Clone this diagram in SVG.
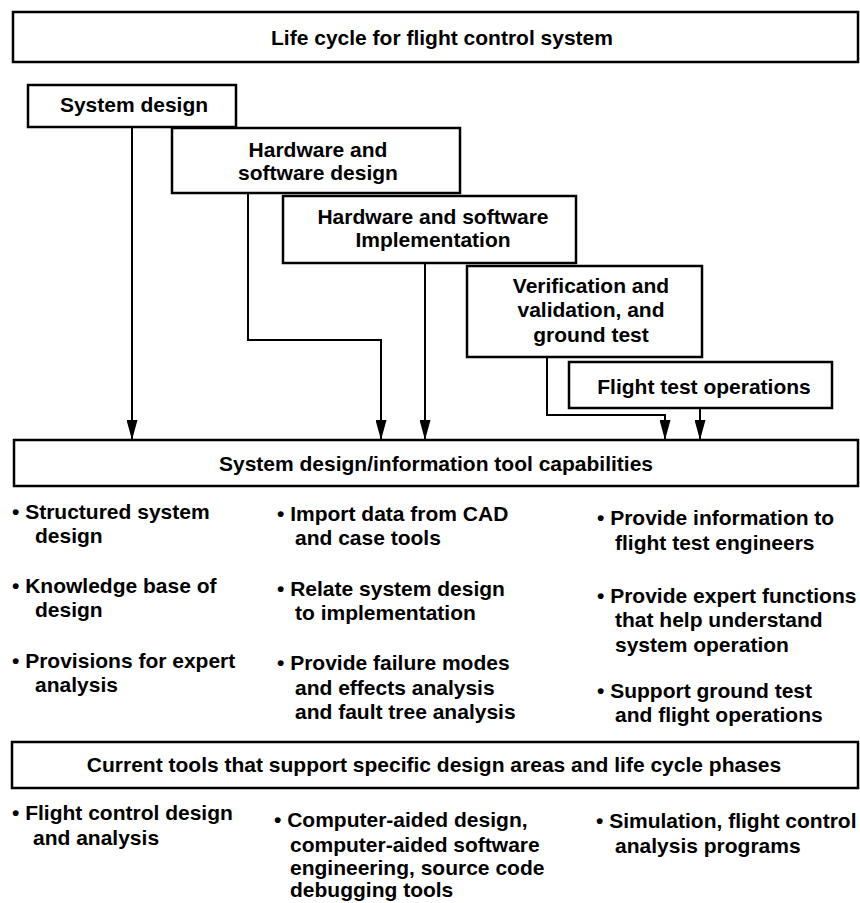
<svg xmlns="http://www.w3.org/2000/svg" width="860" height="903" viewBox="0 0 860 903">
<defs>
<marker id="ah" viewBox="0 0 20 11" refX="20" refY="5.5" markerWidth="20" markerHeight="11" markerUnits="userSpaceOnUse" orient="auto"><path d="M0,0 L20,5.5 L0,11 Z" fill="#000"/></marker>
</defs>
<style>
.box{fill:#fff;stroke:#000;stroke-width:2.5}
.t{font-family:"Liberation Sans",Arial,Helvetica,sans-serif;font-weight:bold;font-size:21px;fill:#000}
.c{text-anchor:middle}
.ln{fill:none;stroke:#000;stroke-width:2;marker-end:url(#ah)}
</style>
<rect width="860" height="903" fill="#fff"/>
<g id="title">
<rect class="box" x="13" y="12" width="845" height="50"/>
<text class="t c" x="442" y="45">Life cycle for flight control system</text>
</g>
<g id="connectors">
<path class="ln" d="M132,127 V440"/>
<path class="ln" d="M248,193 V340 H381 V440"/>
<path class="ln" d="M425,263 V440"/>
<path class="ln" d="M547,357 V415 H665 V440"/>
<path class="ln" d="M700,408 V440"/>
</g>
<g id="system-design">
<rect class="box" x="28" y="85" width="208" height="42"/>
<text class="t c" x="134" y="112">System design</text>
</g>
<g id="hw-sw-design">
<rect class="box" x="172" y="128" width="288" height="65"/>
<text class="t c" x="318" y="157">Hardware and</text>
<text class="t c" x="318" y="180">software design</text>
</g>
<g id="hw-sw-impl">
<rect class="box" x="283" y="196" width="293" height="67"/>
<text class="t c" x="433" y="224">Hardware and software</text>
<text class="t c" x="433" y="247">Implementation</text>
</g>
<g id="vv-ground-test">
<rect class="box" x="467" y="266" width="235" height="91"/>
<text class="t c" x="591" y="293">Verification and</text>
<text class="t c" x="591" y="317">validation, and</text>
<text class="t c" x="591" y="342">ground test</text>
</g>
<g id="flight-test">
<rect class="box" x="569" y="362" width="263" height="46"/>
<text class="t c" x="704" y="394">Flight test operations</text>
</g>
<g id="tool-capabilities">
<rect class="box" x="14" y="440" width="844" height="46"/>
<text class="t c" x="436" y="471">System design/information tool capabilities</text>
</g>
<g id="capabilities-list">
<text class="t" x="12" y="519">• Structured system</text>
<text class="t" x="35" y="543">design</text>
<text class="t" x="12" y="593">• Knowledge base of</text>
<text class="t" x="35" y="617">design</text>
<text class="t" x="12" y="668">• Provisions for expert</text>
<text class="t" x="35" y="692">analysis</text>
<text class="t" x="277" y="521">• Import data from CAD</text>
<text class="t" x="295" y="545">and case tools</text>
<text class="t" x="277" y="596">• Relate system design</text>
<text class="t" x="295" y="620">to implementation</text>
<text class="t" x="277" y="670">• Provide failure modes</text>
<text class="t" x="295" y="695">and effects analysis</text>
<text class="t" x="295" y="719">and fault tree analysis</text>
<text class="t" x="597" y="525">• Provide information to</text>
<text class="t" x="615" y="550">flight test engineers</text>
<text class="t" x="597" y="603">• Provide expert functions</text>
<text class="t" x="615" y="627">that help understand</text>
<text class="t" x="615" y="652">system operation</text>
<text class="t" x="597" y="698">• Support ground test</text>
<text class="t" x="615" y="722">and flight operations</text>
</g>
<g id="current-tools">
<rect class="box" x="12" y="742" width="846" height="46"/>
<text class="t c" x="434" y="772">Current tools that support specific design areas and life cycle phases</text>
</g>
<g id="current-tools-list">
<text class="t" x="12" y="820">• Flight control design</text>
<text class="t" x="33" y="845">and analysis</text>
<text class="t" x="274" y="827">• Computer-aided design,</text>
<text class="t" x="290" y="852">computer-aided software</text>
<text class="t" x="290" y="875">engineering, source code</text>
<text class="t" x="290" y="897">debugging tools</text>
<text class="t" x="596" y="828">• Simulation, flight control</text>
<text class="t" x="615" y="853">analysis programs</text>
</g>
</svg>
